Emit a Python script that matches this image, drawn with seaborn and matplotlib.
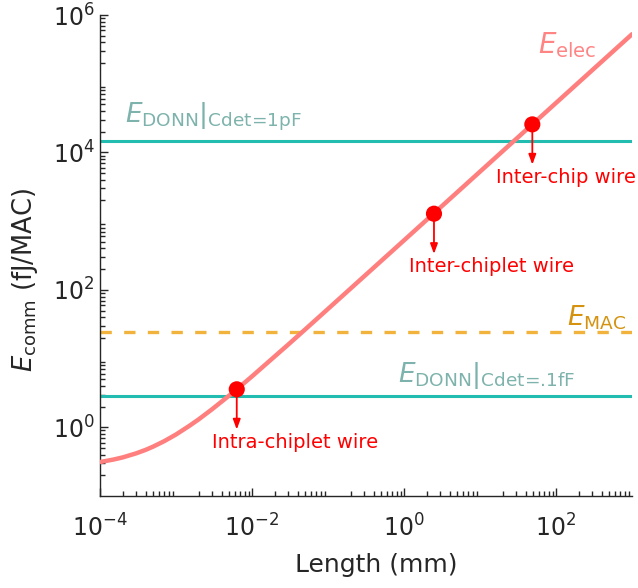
import numpy as np
import pandas as pd
import matplotlib
matplotlib.use("Agg")
import matplotlib.pyplot as plt
import matplotlib.ticker as mticker
import seaborn as sns

# Wire length (mm) and electrical communication energy (fJ/MAC)
length_mm = [1e-4, 1.5e-4, 2e-4, 3e-4, 4e-4, 5e-4, 7e-4, 1e-3, 1.5e-3, 2e-3,
             3e-3, 5e-3, 7e-3, 1e-2, 2e-2, 3e-2, 5e-2, 1e-1, 1e0, 1e1, 1e2, 1e3]
e_elec = [0.312, 0.339, 0.365, 0.418, 0.470, 0.523, 0.628, 0.785, 1.05, 1.31,
          1.84, 2.89, 3.94, 5.51, 10.8, 16.0, 26.5, 52.8, 525, 5250, 52500, 525000]

# Reference energy levels (fJ/MAC)
e_donn_1pf = 1.46e4
e_donn_01ff = 2.83
e_mac = 24.4

# Typical wire classes marked on the curve
wire_names = ["Intra-chiplet wire", "Inter-chiplet wire", "Inter-chip wire"]
wire_length = [6.3e-3, 2.48, 48.8]
wire_energy = [3.57, 1283, 2.56e4]

x_ticks = [1e-4, 1e-2, 1e0, 1e2]
y_ticks = [1e0, 1e2, 1e4, 1e6]

sns.set_style("ticks")
plt.rcParams["font.family"] = ["DejaVu Sans"]
plt.rcParams["mathtext.fontset"] = "dejavusans"

ink = "#262626"
teal = "#22BDB0"
teal_text = "#7DB3AC"
salmon = "#FF7F7F"
salmon_text = "#FF8585"
gold = "#F2B33D"
gold_text = "#D4920F"
red = "#FF0000"

fig = plt.figure(figsize=(6.38, 5.88), dpi=100)
ax = fig.add_axes([100 / 638, 1 - 496 / 588, 532 / 638, 481 / 588])
ax.set_xscale("log")
ax.set_yscale("log")

curve = pd.DataFrame({"L": length_mm, "E": e_elec})
sns.lineplot(data=curve, x="L", y="E", ax=ax, color=salmon, lw=3.2,
             estimator=None, sort=True, zorder=3)

ax.axhline(e_donn_1pf, color=teal, lw=2.2, zorder=2)
ax.axhline(e_donn_01ff, color=teal, lw=2.2, zorder=2)
ax.axhline(e_mac, color=gold, lw=2.4, dashes=(3.4, 3.7), zorder=2)

pts = pd.DataFrame({"L": wire_length, "E": wire_energy, "name": wire_names})
sns.scatterplot(data=pts, x="L", y="E", ax=ax, color=red, s=135,
                edgecolor="none", zorder=5, legend=False)

label_dx = [-18, -18, -26]
for name, L, E, dx in zip(wire_names, wire_length, wire_energy, label_dx):
    ax.annotate("", xy=(L, E), xytext=(0, -29), textcoords="offset points",
                arrowprops=dict(arrowstyle="<|-,head_length=0.6,head_width=0.22",
                                color=red, lw=1.3, shrinkA=0, shrinkB=4),
                zorder=4)
    ax.annotate(name, xy=(L, E), xytext=(dx, -38), textcoords="offset points",
                ha="left", va="center", color=red, fontsize=14)

ax.text(10 ** 1.76, 10 ** 5.56, r"$E_{\mathrm{elec}}$", color=salmon_text,
        fontsize=20, ha="left", va="center")
ax.text(10 ** -3.67, 10 ** 4.52, r"$E_{\mathrm{DONN}}|_{\text{Cdet=1pF}}$",
        color=teal_text, fontsize=19, ha="left", va="center")
ax.text(10 ** 2.92, 10 ** 1.59, r"$E_{\mathrm{MAC}}$", color=gold_text,
        fontsize=19, ha="right", va="center")
ax.text(10 ** -0.08, 10 ** 0.76, r"$E_{\mathrm{DONN}}|_{\text{Cdet=.1fF}}$",
        color=teal_text, fontsize=19, ha="left", va="center")

ax.set_xlim(1e-4, 1e3)
ax.set_ylim(1e-1, 1e6)
ax.xaxis.set_major_locator(mticker.FixedLocator(x_ticks))
ax.yaxis.set_major_locator(mticker.FixedLocator(y_ticks))
ax.xaxis.set_major_formatter(mticker.LogFormatterMathtext())
ax.yaxis.set_major_formatter(mticker.LogFormatterMathtext())
ax.xaxis.set_minor_locator(mticker.LogLocator(base=10, subs=np.arange(2, 10), numticks=100))
ax.yaxis.set_minor_locator(mticker.LogLocator(base=10, subs=np.arange(2, 10), numticks=100))
ax.xaxis.set_minor_formatter(mticker.NullFormatter())
ax.yaxis.set_minor_formatter(mticker.NullFormatter())

ax.tick_params(which="both", direction="in", colors=ink, width=1)
ax.tick_params(which="major", length=6, labelsize=17)
ax.tick_params(which="minor", length=3.5)
ax.tick_params(axis="x", which="major", pad=13)
ax.tick_params(axis="y", which="major", pad=4)

for side in ("top", "right"):
    ax.spines[side].set_visible(False)
for side in ("left", "bottom"):
    ax.spines[side].set_color(ink)
    ax.spines[side].set_linewidth(1)

ax.set_xlabel("Length (mm)", fontsize=18, color=ink)
ax.set_ylabel(r"$E_{\mathrm{comm}}$ (fJ/MAC)", fontsize=18.5, color=ink)
ax.xaxis.set_label_coords(0.52, -0.118)
ax.yaxis.set_label_coords(-0.113, 0.449)

fig.savefig("out.png", dpi=100)
